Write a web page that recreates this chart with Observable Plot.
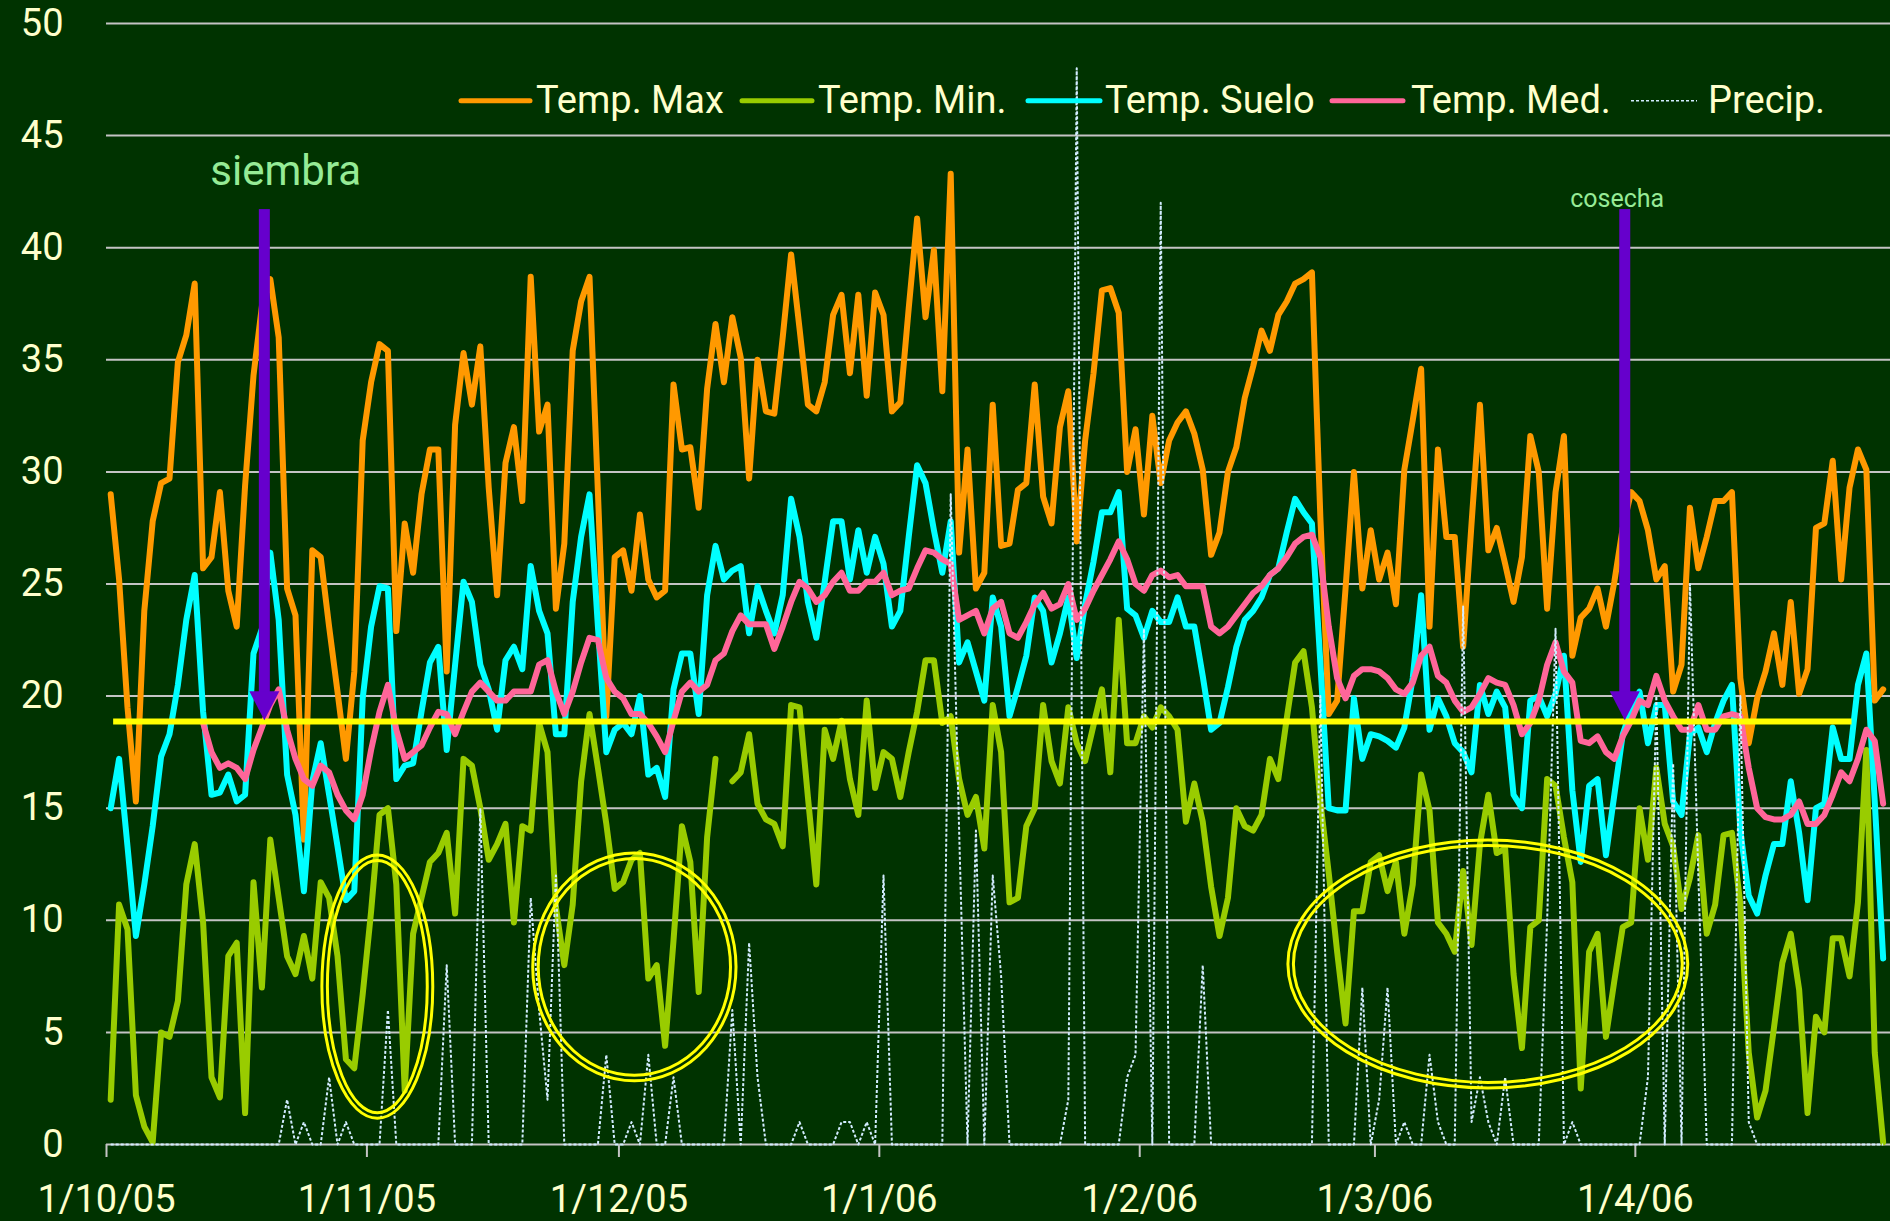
<!DOCTYPE html>
<html>
<head>
<meta charset="utf-8">
<script src="https://cdn.jsdelivr.net/npm/d3@7"></script>
<script src="https://cdn.jsdelivr.net/npm/@observablehq/plot@0.6"></script>
<style>
html, body { margin: 0; padding: 0; background: #003300; overflow: hidden; }
svg { display: block; }
</style>
</head>
<body>
<div id="chart"></div>
<script>
// ---- data (daily, 1/10/2005 .. 30/4/2006) ----
const startDate = "2005-10-01";
const tempMax = [
 29.0,25.2,19.5,15.3,23.8,27.8,29.5,29.7,34.9,36.1,
 38.4,25.7,26.2,29.1,24.7,23.1,29.4,34.3,37.4,38.6,
 36.0,24.8,23.6,13.6,26.5,26.2,23.1,20.2,17.2,21.1,
 31.4,34.0,35.7,35.4,22.9,27.7,25.5,29.0,31.0,31.0,
 21.1,32.1,35.3,33.0,35.6,29.3,24.5,30.4,32.0,28.7,
 38.7,31.8,33.0,23.9,26.8,35.4,37.6,38.7,29.1,19.1,
 26.2,26.5,24.7,28.1,25.2,24.4,24.7,33.9,31.0,31.1,
 28.4,33.7,36.6,34.0,36.9,35.1,29.7,35.0,32.7,32.6,
 36.0,39.7,36.4,33.0,32.7,34.0,37.0,37.9,34.4,37.9,
 33.4,38.0,37.0,32.7,33.1,37.3,41.3,36.9,39.9,33.6,
 43.3,26.4,31.0,24.8,25.5,33.0,26.7,26.8,29.2,29.5,
 33.9,28.9,27.7,32.0,33.6,26.9,31.4,34.4,38.1,38.2,
 37.1,30.0,31.9,28.1,32.5,29.5,31.4,32.2,32.7,31.7,
 30.1,26.3,27.3,30.0,31.1,33.3,34.7,36.3,35.4,37.0,
 37.6,38.4,38.6,38.9,28.0,19.2,19.8,24.8,30.0,24.8,
 27.4,25.2,26.4,24.1,30.1,32.3,34.6,23.1,31.0,27.1,
 27.1,22.2,27.7,33.0,26.5,27.5,25.9,24.2,26.2,31.6,
 30.0,23.9,29.1,31.6,21.8,23.5,23.9,24.8,23.1,25.1,
 27.5,29.1,28.7,27.4,25.2,25.8,20.2,21.4,28.4,25.7,
 27.1,28.7,28.7,29.1,20.8,17.9,19.9,21.1,22.8,20.5,
 24.2,20.1,21.2,27.5,27.7,30.5,25.2,29.3,31.0,30.1,
 19.8,20.3
];
const tempMin = [
 2.0,10.7,9.6,2.2,0.8,0.1,5.0,4.8,6.4,11.6,
 13.4,9.9,3.0,2.1,8.4,9.0,1.4,11.7,7.0,13.6,
 11.0,8.4,7.6,9.3,7.4,11.7,11.0,8.4,3.8,3.4,
 6.7,10.4,14.7,15.0,11.6,2.4,9.4,11.0,12.6,13.0,
 13.9,10.3,17.2,16.9,15.0,12.7,13.4,14.3,9.9,14.2,
 14.0,18.8,17.5,10.6,8.0,10.7,16.2,19.2,16.8,14.3,
 11.4,11.7,12.7,13.0,7.4,8.0,4.4,9.1,14.2,12.6,
 6.8,13.7,17.2,null,16.2,16.6,18.3,15.2,14.5,14.3,
 13.3,19.6,19.5,15.5,11.6,18.5,17.2,18.9,16.3,14.7,
 19.8,15.9,17.5,17.2,15.5,17.5,19.3,21.6,21.6,18.8,
 19.1,16.3,14.7,15.5,13.2,19.6,17.5,10.8,11.0,14.2,
 15.0,19.6,17.1,16.1,19.5,17.9,17.1,18.7,20.3,16.6,
 23.4,17.9,17.9,19.1,18.6,19.5,19.1,18.5,14.4,16.1,
 14.4,11.5,9.3,11.0,15.0,14.2,14.0,14.7,17.2,16.3,
 19.0,21.5,22.0,19.5,15.3,12.1,8.6,5.4,10.4,10.4,
 12.6,12.9,11.3,12.6,9.4,11.6,16.5,14.9,9.9,9.4,
 8.6,12.2,8.9,13.4,15.6,13.0,13.2,7.6,4.3,9.7,
 10.0,16.3,16.0,13.7,11.7,2.5,8.6,9.4,4.8,7.3,
 9.7,9.9,15.0,12.7,16.8,14.3,13.3,10.5,11.9,13.8,
 9.4,10.7,13.8,13.9,10.7,4.1,1.2,2.4,5.2,8.1,
 9.4,6.9,1.4,5.7,5.0,9.2,9.2,7.5,10.8,17.6,
 4.1,0.1
];
const tempSuelo = [
 15.0,17.2,13.3,9.3,11.6,14.2,17.3,18.3,20.5,23.4,
 25.4,19.3,15.6,15.7,16.5,15.3,15.6,21.9,23.0,26.4,
 23.4,16.5,14.7,11.3,16.2,17.9,15.6,13.3,10.9,11.3,
 19.9,23.1,24.9,24.8,16.3,16.9,17.0,19.3,21.5,22.2,
 17.6,21.4,25.1,24.2,21.4,20.3,18.5,21.6,22.2,21.2,
 25.8,23.8,22.8,18.3,18.3,24.2,27.1,29.0,23.1,17.5,
 18.5,18.8,18.3,20.0,16.5,16.8,15.5,20.3,21.9,21.9,
 19.2,24.5,26.7,25.2,25.6,25.8,22.8,24.9,23.8,22.8,
 24.5,28.8,27.1,24.2,22.6,25.1,27.8,27.8,25.2,27.4,
 25.5,27.1,25.9,23.1,23.8,27.1,30.3,29.5,27.4,25.5,
 27.8,21.5,22.4,21.1,19.8,24.4,23.1,19.1,20.4,21.8,
 24.4,23.8,21.5,22.8,24.4,21.7,24.1,26.0,28.2,28.2,
 29.1,23.9,23.6,22.6,23.8,23.3,23.3,24.4,23.1,23.1,
 20.9,18.5,18.8,20.4,22.2,23.4,23.8,24.4,25.4,25.7,
 27.3,28.8,28.2,27.7,21.5,15.0,14.9,14.9,19.9,17.2,
 18.3,18.2,18.0,17.7,18.6,20.8,24.5,18.5,19.9,19.1,
 17.9,17.5,16.6,20.5,19.2,20.2,19.5,15.6,15.0,19.8,
 20.0,19.1,20.1,21.8,15.8,12.6,16.0,16.3,12.9,15.6,
 18.3,19.4,20.2,17.9,19.6,19.6,15.3,14.7,18.3,18.6,
 17.5,18.8,19.8,20.5,14.0,11.1,10.3,12.0,13.4,13.4,
 16.2,13.9,10.9,15.0,15.2,18.6,17.2,17.2,20.5,21.9,
 15.3,8.3
];
const tempMed = [
 null,null,null,null,null,null,null,null,null,null,
 null,18.8,17.5,16.8,17.0,16.8,16.3,17.6,18.6,19.6,
 20.3,18.5,17.2,16.3,16.0,16.9,16.6,15.6,14.9,14.5,
 15.6,17.6,19.3,20.5,18.5,17.2,17.5,17.8,18.6,19.3,
 19.2,18.3,19.3,20.2,20.6,20.2,19.8,19.8,20.2,20.2,
 20.2,21.4,21.6,20.2,19.2,20.2,21.5,22.6,22.5,20.8,
 20.2,19.9,19.2,19.2,18.8,18.2,17.5,18.9,20.2,20.6,
 20.2,20.5,21.6,21.9,22.9,23.6,23.2,23.2,23.2,22.1,
 23.1,24.2,25.1,24.8,24.2,24.5,25.1,25.5,24.7,24.7,
 25.1,25.1,25.5,24.5,24.7,24.8,25.7,26.5,26.4,26.1,
 25.9,23.4,23.6,23.8,22.8,23.9,24.2,22.8,22.6,23.3,
 24.1,24.6,23.9,24.1,25.0,23.4,23.9,24.7,25.4,26.1,
 26.9,26.1,25.0,24.7,25.4,25.6,25.3,25.4,24.9,24.9,
 24.9,23.1,22.8,23.1,23.6,24.1,24.6,24.9,25.4,25.7,
 26.2,26.8,27.1,27.2,26.2,23.1,20.8,19.9,20.9,21.2,
 21.2,21.1,20.8,20.3,20.1,20.6,21.8,22.2,20.9,20.6,
 19.8,19.3,19.5,20.1,20.8,20.6,20.5,19.6,18.3,18.8,
 19.8,21.4,22.4,21.1,20.6,18.0,17.9,18.2,17.5,17.2,
 18.2,18.9,19.8,19.6,20.9,19.8,19.1,18.5,18.5,19.6,
 18.5,18.5,19.1,19.2,19.1,16.8,15.0,14.6,14.5,14.5,
 14.7,15.3,14.3,14.3,14.7,15.6,16.6,16.2,17.2,18.5,
 18.0,15.2
];
const precip = [
 0,0,0,0,0,0,0,0,0,0,
 0,0,0,0,0,0,0,0,0,0,
 0,2,0,1,0,0,3,0,1,0,
 0,0,0,6,0,0,0,0,0,0,
 8,0,0,0,15,0,0,0,0,0,
 11,6,2,12,0,0,0,0,0,4,
 0,0,1,0,4,0,0,3,0,0,
 0,0,0,0,6,0,9,3,0,0,
 0,0,1,0,0,0,0,1,1,0,
 1,0,12,0,0,0,0,0,0,0,
 29,14,0,14,0,12,7.5,0,0,0,
 0,0,0,0,2,48,0,0,0,0,
 0,3,4,23,0,42,0,0,0,0,
 8,0,0,0,0,0,0,0,0,0,
 0,0,0,0,20,0,0,0,0,7,
 0,2,7,0,1,0,0,4,1,0,
 0,24,1,3,1,0,3,0,0,0,
 0,10,23,0,1,0,0,0,0,0,
 0,0,0,3,20,0,17,0,25,12,
 0,0,0,0,20,1,0,0,0,0,
 0,0,0,0,0,0,0,0,0,0,
 0,0
];
const monthTicks = ["2005-10-01","2005-11-01","2005-12-01","2006-01-01","2006-02-01","2006-03-01","2006-04-01"];
const monthLabels = ["1/10/05","1/11/05","1/12/05","1/1/06","1/2/06","1/3/06","1/4/06"];
const yTicks = [0,5,10,15,20,25,30,35,40,45,50];
const xDomainEnd = "2006-05-01T09:00:00Z";

const seriesNames  = ["Temp. Max","Temp. Min.","Temp. Suelo","Temp. Med.","Precip."];
const seriesColors = ["#ff9900","#99cc00","#00ffff","#ff6699","#d2ecff"];

// annotations (in days from start / temperature units)
const umbral = {value: 18.87, fromDay: 0.85, toDay: 207.8};
const eventos = [
  {label: "siembra", day: 18.85, top: 41.7, tip: 18.9, labelDay: 21.4, labelValue: 43.37, size: 42},
  {label: "cosecha", day: 180.8, top: 41.7, tip: 18.9, labelDay: 179.9, labelValue: 42.15, size: 25}
];
const elipses = [
  {day: 32.3, value: 7.02, rDays: 6.6, rValue: 5.87},
  {day: 62.9, value: 7.9, rDays: 12.1, rValue: 5.08},
  {day: 164.5, value: 8.03, rDays: 23.8, rValue: 5.53}
];

// ---- build ----
const DAY = 864e5;
const t0 = Date.parse(startDate + "T00:00:00Z");
const dateOf = d => new Date(t0 + d * DAY);
const rowsOf = vals => vals.map((v, i) => ({date: dateOf(i + 0.5), value: v}));
const tickDates = monthTicks.map(s => new Date(s + "T00:00:00Z"));
const labelMap = new Map(tickDates.map((d, i) => [d.getTime(), monthLabels[i]]));
const allSeries = [tempMax, tempMin, tempSuelo, tempMed, precip];

const lineMarks = allSeries.map((vals, i) => Plot.line(rowsOf(vals), {
  x: "date", y: "value",
  stroke: seriesColors[i],
  strokeWidth: i === 4 ? 2 : 6,
  strokeDasharray: i === 4 ? "3,2" : null,
  strokeLinejoin: "round", strokeLinecap: i === 4 ? "butt" : "round"
}));

const plot = Plot.plot({
  width: 1890, height: 1221,
  marginLeft: 106, marginRight: 0, marginTop: 23, marginBottom: 77,
  style: {background: "#003300", color: "#ffffcc", fontFamily: "Roboto, 'Open Sans', sans-serif"},
  x: {type: "utc", domain: [dateOf(0), new Date(xDomainEnd)]},
  y: {domain: [0, 50]},
  marks: [
    Plot.ruleY(yTicks, {stroke: "#c4c4c4", strokeWidth: 2}),
    Plot.axisY(yTicks, {tickSize: 0, tickPadding: 43, fontSize: 38, fill: "#ffffcc", label: null}),
    Plot.axisX(tickDates, {tickSize: 13, tickPadding: 28, fontSize: 38, fill: "#ffffcc", stroke: "#c4c4c4", strokeWidth: 2,
      tickFormat: d => labelMap.get(d.getTime()), label: null}),
    ...lineMarks,
    Plot.ruleY([umbral], {y: "value", x1: d => dateOf(d.fromDay), x2: d => dateOf(d.toDay), stroke: "#ffff00", strokeWidth: 6})
  ]
});

document.getElementById("chart").appendChild(plot);

// ---- annotations via the plot's scales ----
const xs = plot.scale("x"), ys = plot.scale("y");
const X = d => xs.apply(dateOf(d));
const Y = v => ys.apply(v);
const svg = d3.select(plot);
const g = svg.append("g");

// arrows
for (const e of eventos) {
  const cx = X(e.day), yTop = Y(e.top), yTip = Y(e.tip);
  const headH = 29, headW = 30, shaftW = 11;
  g.append("rect").attr("x", cx - shaftW / 2).attr("y", yTop)
    .attr("width", shaftW).attr("height", yTip - headH - yTop + 1).attr("fill", "#6600cc");
  g.append("polygon")
    .attr("points", `${cx - headW / 2},${yTip - headH} ${cx + headW / 2},${yTip - headH} ${cx},${yTip}`)
    .attr("fill", "#6600cc");
  g.append("text").attr("x", X(e.labelDay)).attr("y", Y(e.labelValue)).attr("dy", "0.32em")
    .attr("text-anchor", "middle").attr("fill", "#96eb96")
    .attr("font-size", e.size).attr("font-family", "Roboto, sans-serif").text(e.label);
}

// ellipses (double yellow)
for (const el of elipses) {
  const cx = X(el.day), cy = Y(el.value);
  const rx = X(el.day + el.rDays) - cx, ry = cy - Y(el.value + el.rValue);
  for (const off of [0, 5.5]) {
    g.append("ellipse").attr("cx", cx).attr("cy", cy).attr("rx", rx - off).attr("ry", ry - off)
      .attr("fill", "none").attr("stroke", "#ffff00").attr("stroke-width", 3);
  }
}

// legend (inside the chart area, top right)
const legendLayout = [
  {x1: 461, x2: 530, tx: 536},
  {x1: 742, x2: 812, tx: 818},
  {x1: 1028, x2: 1100, tx: 1105},
  {x1: 1332, x2: 1403, tx: 1411},
  {x1: 1631, x2: 1697, tx: 1708}
];
const lg = svg.append("g").attr("text-anchor", "start");
seriesNames.forEach((name, i) => {
  const L = legendLayout[i];
  lg.append("line").attr("x1", L.x1).attr("x2", L.x2).attr("y1", 100.7).attr("y2", 100.7)
    .attr("stroke", seriesColors[i])
    .attr("stroke-width", i === 4 ? 1.5 : 5)
    .attr("stroke-dasharray", i === 4 ? "3,2" : null)
    .attr("stroke-linecap", i === 4 ? "butt" : "round");
  lg.append("text").attr("x", L.tx).attr("y", 112.7).attr("fill", "#ffffcc")
    .attr("text-anchor", "start")
    .attr("font-size", 38).attr("font-family", "Roboto, sans-serif").text(name);
});
</script>
</body>
</html>
